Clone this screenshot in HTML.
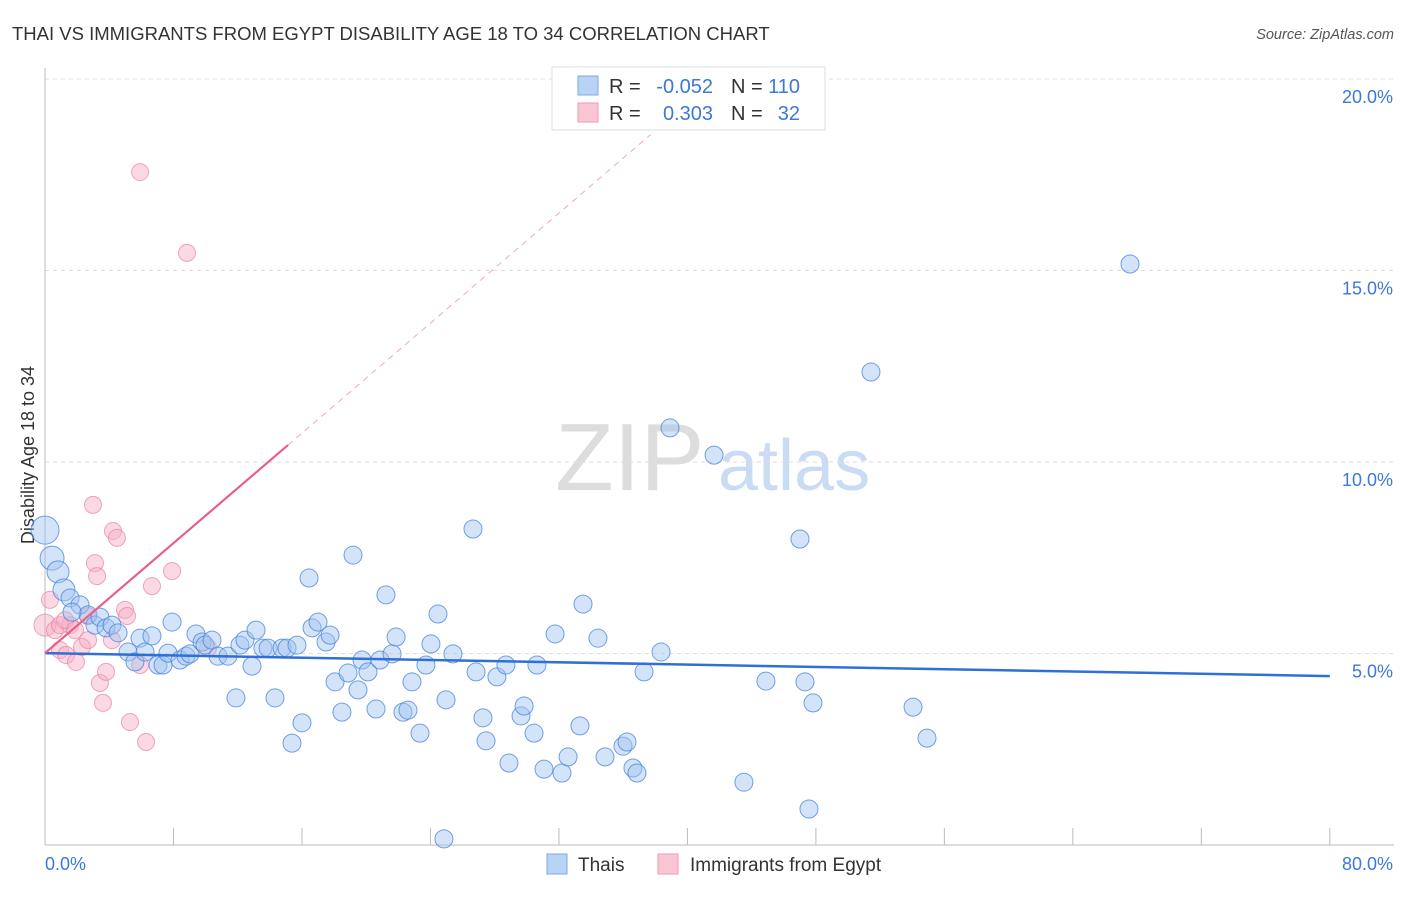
<!DOCTYPE html>
<html><head><meta charset="utf-8"><style>
body{margin:0;background:#fff;font-family:"Liberation Sans",sans-serif}
svg text{font-family:"Liberation Sans",sans-serif}
</style></head><body>
<svg id="c" width="1406" height="892">
<text x="12" y="40" font-size="18.5" fill="#333">THAI VS IMMIGRANTS FROM EGYPT DISABILITY AGE 18 TO 34 CORRELATION CHART</text>
<text x="1394" y="39" font-size="14.5" fill="#555" text-anchor="end" font-style="italic">Source: ZipAtlas.com</text>
<text x="34" y="455" font-size="18" fill="#333" transform="rotate(-90 34 455)" text-anchor="middle">Disability Age 18 to 34</text>
<text x="555" y="490" font-size="96" fill="#ddd" font-family="Liberation Serif">ZIP</text>
<text x="718" y="490" font-size="72" fill="#c9dcf3">atlas</text>
<g id="grid"></g><g id="marks"></g>
<g>
<rect x="552" y="67" width="273" height="63" fill="#fff" stroke="#ddd"/>
<rect x="578" y="76" width="20" height="19" fill="#b9d3f5" stroke="#7aa8e6"/>
<rect x="578" y="103" width="20" height="19" fill="#f9c6d4" stroke="#ee9ab4"/>
<text x="609" y="93" font-size="20" fill="#333">R =</text>
<text x="713" y="93" font-size="20" fill="#3b78d8" text-anchor="end">-0.052</text>
<text x="731" y="93" font-size="20" fill="#333">N =</text>
<text x="800" y="93" font-size="20" fill="#3b78d8" text-anchor="end">110</text>
<text x="609" y="120" font-size="20" fill="#333">R =</text>
<text x="713" y="120" font-size="20" fill="#3b78d8" text-anchor="end">0.303</text>
<text x="731" y="120" font-size="20" fill="#333">N =</text>
<text x="800" y="120" font-size="20" fill="#3b78d8" text-anchor="end">32</text>
</g>
<g>
<rect x="547" y="854" width="20" height="20" fill="#b9d3f5" stroke="#7aa8e6"/>
<text x="578" y="871" font-size="19" fill="#333">Thais</text>
<rect x="658" y="854" width="20" height="20" fill="#f9c6d4" stroke="#ee9ab4"/>
<text x="690" y="871" font-size="19" fill="#333">Immigrants from Egypt</text>
</g>
</svg>
<script>
const blueX=[0,0.44,0.81,1.18,1.56,2.18,2.68,1.68,3.11,3.42,3.8,4.17,4.55,5.17,5.6,5.92,6.23,6.66,7.04,7.35,7.66,7.91,8.41,8.78,9.03,9.4,9.78,9.96,10.4,10.77,11.39,11.89,12.14,12.45,12.89,13.14,13.57,13.89,14.32,14.76,15.07,15.38,15.69,16,16.44,16.63,17,17.5,17.75,18.06,18.49,18.87,19.18,19.49,19.74,20.11,20.61,20.86,21.23,21.61,21.86,22.29,22.6,22.85,23.35,23.72,24.03,24.47,24.97,25.4,26.65,26.84,27.27,27.46,28.14,28.7,28.89,29.64,29.83,30.45,30.63,31.07,31.76,32.19,32.57,33.31,33.5,34.43,34.87,35.99,36.24,36.61,36.86,37.3,38.36,38.92,41.66,43.52,44.89,47.01,47.32,47.82,47.57,51.43,54.05,54.92,67.56,24.84];
const blueY=[8.22,7.49,7.13,6.66,6.45,6.27,6.01,6.08,5.74,5.95,5.67,5.74,5.54,5.04,4.78,5.4,5.04,5.46,4.7,4.7,5.01,5.82,4.83,4.93,4.99,5.51,5.3,5.22,5.35,4.93,4.93,3.84,5.22,5.35,4.67,5.61,5.14,5.14,3.84,5.14,5.14,2.66,5.22,3.19,6.97,5.67,5.82,5.3,5.48,4.26,3.47,4.49,7.57,4.05,4.83,4.52,3.55,4.83,6.53,4.99,5.43,3.47,3.52,4.26,2.92,4.7,5.25,6.03,3.79,4.99,8.25,4.52,3.32,2.72,4.39,4.7,2.14,3.37,3.63,2.92,4.7,1.98,5.51,1.88,2.3,3.11,6.29,5.4,2.3,2.58,2.69,2.01,1.88,4.52,5.04,10.89,10.18,1.64,4.28,7.99,4.26,3.71,0.94,12.35,3.6,2.79,15.17,0.16];
const pinkX=[0,0.31,0.62,0.93,1.31,1.56,1.93,2.3,2.68,2.99,3.11,3.24,3.42,3.61,3.8,4.23,4.48,4.98,5.11,5.29,5.92,6.29,6.66,7.91,8.84,10.15,0.93,1.25,1.87,2.68,4.17,5.92];
const pinkY=[5.74,6.4,5.61,5.09,4.96,5.74,4.78,5.17,5.98,8.88,7.36,7.02,4.23,3.71,4.52,8.2,8.02,6.14,5.98,3.21,17.57,2.69,6.76,7.15,15.46,5.14,5.74,5.87,5.61,5.35,5.35,4.7];
const yTicks=[5,10,15,20];
const xTicks=[0,8,16,24,32,40,48,56,64,72,80];
const blueFit=[5.01,4.41];
const pinkFit=[5.01,0.359];
const X=v=>45+v*16.06, Y=v=>845-v*38.3;
const NS="http://www.w3.org/2000/svg";
function mk(t,a,p){const e=document.createElementNS(NS,t);for(const k in a)e.setAttribute(k,a[k]);p.appendChild(e);return e;}
const g=document.getElementById('grid'),m=document.getElementById('marks');
yTicks.forEach(t=>{
 const l=mk('line',{x1:45,x2:1394,y1:Y(t),y2:Y(t),stroke:'#ddd','stroke-dasharray':'4,4'},g);
 
 
 const tx=mk('text',{x:1393,y:Y(t)+24,'font-size':18,fill:'#3b78d8','text-anchor':'end'},g);tx.textContent=t.toFixed(1)+'%';
 
 
});
mk('line',{x1:45,x2:45,y1:68,y2:845,stroke:'#bbb'},g);
mk('line',{x1:45,x2:1394,y1:845,y2:845,stroke:'#bbb'},g);
xTicks.forEach(t=>{
 const l=mk('line',{x1:X(t),x2:X(t),y1:828,y2:845,stroke:'#bbb'},g);
 
 
});
[[0,'start',45],[80,'end',1393]].forEach(([v,a,x])=>{
 const tx=mk('text',{x:x,y:870,'font-size':18,fill:'#3b78d8','text-anchor':a},g);tx.textContent=v.toFixed(1)+'%';
 
 
});
pinkX.forEach((x,i)=>{
 const c=mk('circle',{cx:X(x),cy:Y(pinkY[i]),r:i==0?11:8.5,fill:'rgba(246,170,195,0.45)',stroke:'rgba(234,130,160,0.7)'},m);
 
 
});
blueX.forEach((x,i)=>{
 const c=mk('circle',{cx:X(x),cy:Y(blueY[i]),r:i==0?14:i==1?12:i<4?11:9,fill:'rgba(160,196,240,0.45)',stroke:'rgba(70,130,220,0.75)'},m);
 
 
});
const bl=mk('line',{x1:X(0),y1:Y(blueFit[0]),x2:X(80),y2:Y(blueFit[1]),stroke:'#2f6fd6','stroke-width':2.5},m);


const pl=mk('line',{x1:X(0),y1:Y(pinkFit[0]),x2:X(15.13),y2:Y(pinkFit[0]+pinkFit[1]*15.13),stroke:'#e8608a','stroke-width':2.2},m);


const pd=mk('line',{x1:X(15.13),y1:Y(pinkFit[0]+pinkFit[1]*15.13),x2:X(37.7),y2:Y(pinkFit[0]+pinkFit[1]*37.7),stroke:'#f0a8be','stroke-width':1,'stroke-dasharray':'6,5'},m);


</script>
</body></html>
